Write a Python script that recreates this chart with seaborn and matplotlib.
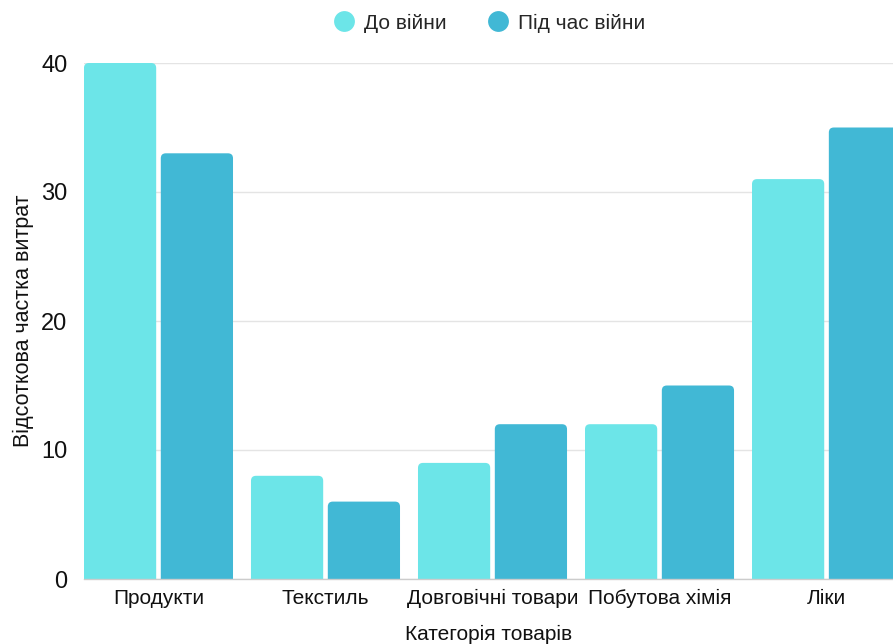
import matplotlib
matplotlib.use("Agg")
import matplotlib.pyplot as plt
from matplotlib.patches import FancyBboxPatch
from matplotlib.lines import Line2D
import seaborn as sns
import pandas as pd

categories = ["Продукти", "Текстиль", "Довговічні товари", "Побутова хімія", "Ліки"]
before_war = [40, 8, 9, 12, 31]
during_war = [33, 6, 12, 15, 35]
series_names = ["До війни", "Під час війни"]
colors = ["#6ce5e8", "#41b8d5"]

df = pd.DataFrame({
    "Категорія": categories * 2,
    "Значення": before_war + during_war,
    "Період": [series_names[0]] * len(categories) + [series_names[1]] * len(categories),
})

sns.set_theme(style="white")
plt.rcParams["font.family"] = ["Liberation Sans", "DejaVu Sans"]

fig = plt.figure(figsize=(8.93, 6.44), dpi=100)
ax = fig.add_axes([84 / 893, 65 / 644, 1 - 84 / 893, (579 - 63) / 644])

sns.barplot(
    data=df, x="Категорія", y="Значення", hue="Період",
    palette=colors, width=0.92, gap=0.06, ax=ax, legend=False,
    saturation=1,
)

ax.set_xlim(-0.446, 4.398)
ax.set_ylim(0, 40)
ax.figure.canvas.draw()

# replace plain bars with top-rounded ones
px_x = (ax.get_xlim()[1] - ax.get_xlim()[0]) / ax.bbox.width
px_y = (ax.get_ylim()[1] - ax.get_ylim()[0]) / ax.bbox.height
r_px = 5.0
for p in list(ax.patches):
    x0, w, h = p.get_x(), p.get_width(), p.get_height()
    fc = p.get_facecolor()
    p.set_visible(False)
    ext = r_px * px_y * 2
    fb = FancyBboxPatch(
        (x0, -ext), w, h + ext,
        boxstyle=f"round,pad=0,rounding_size={r_px * px_x}",
        mutation_aspect=px_y / px_x,
        facecolor=fc, edgecolor="none", zorder=2,
    )
    ax.add_patch(fb)

ax.set_yticks([0, 10, 20, 30, 40])
ax.yaxis.grid(True, color="#e4e4e4", linewidth=1)
ax.set_axisbelow(True)
for s in ["top", "right", "left"]:
    ax.spines[s].set_visible(False)
ax.spines["bottom"].set_color("#cccccc")
ax.spines["bottom"].set_linewidth(1)
ax.tick_params(axis="y", length=0, pad=12, labelsize=17, labelcolor="#111111")
ax.tick_params(axis="x", length=0, pad=7, labelsize=15, labelcolor="#111111")

ax.set_xlabel("Категорія товарів", fontsize=15, color="#111111", labelpad=12)
ax.set_ylabel("Відсоткова частка витрат", fontsize=15.5, color="#111111", labelpad=5)

handles = [
    Line2D([0], [0], marker="o", linestyle="none", markersize=15,
           markerfacecolor=c, markeredgecolor="none")
    for c in colors
]
fig.legend(handles, series_names, loc="upper center", bbox_to_anchor=(0.548, 1.008),
           ncol=2, frameon=False, fontsize=15, handletextpad=0.45,
           columnspacing=2.0, handlelength=1.0)

fig.savefig("out.png", dpi=100)
